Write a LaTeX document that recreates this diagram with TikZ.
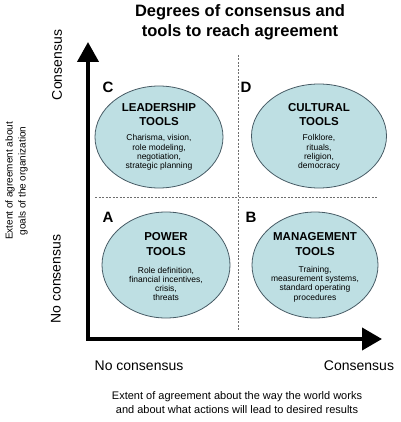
\documentclass[tikz,border=0pt]{standalone}
\usepackage{fontspec}
\setmainfont{Liberation Sans}
\usetikzlibrary{arrows.meta,shapes.geometric}
\definecolor{ellfill}{RGB}{190,223,227}
\definecolor{elldraw}{RGB}{70,90,100}
\definecolor{dashgray}{RGB}{110,110,110}
\begin{document}
\begin{tikzpicture}[x=1pt,y=-1pt,
  axis/.style={line width=4pt, line join=miter,
    {Triangle[width=21pt,length=20pt]}-{Triangle[width=22pt,length=20pt]}},
  divider/.style={dashgray, line width=0.9pt, dash pattern=on 2pt off 1.5pt},
  tool/.style={ellipse, draw=elldraw, fill=ellfill, line width=0.8pt, inner sep=0pt},
  quad/.style={font=\fontsize{15}{18}\selectfont\bfseries},
  ttl/.style={font=\fontsize{11.5}{14.5}\selectfont\bfseries, align=center},
  desc/.style={font=\fontsize{8.5}{9.2}\selectfont, align=center},
  axlab/.style={font=\fontsize{14}{16}\selectfont},
  side/.style={font=\fontsize{10}{13}\selectfont, align=center},
  ]
\useasboundingbox (0,0) rectangle (400,422);

% title
\node[font=\fontsize{16.5}{20}\selectfont\bfseries, align=center] (title) at (240,22)
  {Degrees of consensus and\\tools to reach agreement};

% dividers
\coordinate (vtop) at (238,55);
\coordinate (vbot) at (238,330);
\coordinate (hl) at (95,197);
\coordinate (hr) at (378,197);
\draw[divider] (vtop) -- (vbot);
\draw[divider] (hl) -- (hr);

% axes
\coordinate (ytip) at (88,42);
\coordinate (orig) at (88,339);
\coordinate (xtip) at (382,339);
\draw[axis] (ytip) -- (orig) -- (xtip);

% ellipses
\node[tool, minimum width=128pt, minimum height=102pt] (eC) at (159,137) {};
\node[tool, minimum width=135pt, minimum height=104pt] (eD) at (319,136) {};
\node[tool, minimum width=128pt, minimum height=106pt] (eA) at (166,265) {};
\node[tool, minimum width=126pt, minimum height=106pt] (eB) at (315,265) {};

% quadrant letters
\node[quad] (lC) at (108,87) {C};
\node[quad] (lD) at (246,87) {D};
\node[quad] (lA) at (108,217) {A};
\node[quad] (lB) at (251,217) {B};

% texts
\node[ttl] (tC) at (159,114.5) {LEADERSHIP\\TOOLS};
\node[desc] (dC) at (159,152.5) {Charisma, vision,\\role modeling,\\negotiation,\\strategic planning};
\node[ttl] (tD) at (319,114.5) {CULTURAL\\TOOLS};
\node[desc] (dD) at (319,152.5) {Folklore,\\rituals,\\religion,\\democracy};
\node[ttl] (tA) at (166,244) {POWER\\TOOLS};
\node[desc] (dA) at (166,284) {Role definition,\\financial incentives,\\crisis,\\threats};
\node[ttl] (tB) at (315,244) {MANAGEMENT\\TOOLS};
\node[desc] (dB) at (315,284) {Training,\\measurement systems,\\standard operating\\procedures};

% axis labels
\node[axlab, rotate=90] (yhi) at (57,65) {Consensus};
\node[axlab, rotate=90] (ylo) at (56,279) {No consensus};
\node[axlab] (xlo) at (139,366) {No consensus};
\node[axlab] (xhi) at (359,366) {Consensus};
\node[side, rotate=90] (ytitle) at (16.5,181) {Extent of agreement about\\goals of the organization};
\node[side, font=\fontsize{11}{14}\selectfont] (xtitle) at (237,403)
  {Extent of agreement about the way the world works\\and about what actions will lead to desired results};
\end{tikzpicture}
\end{document}
